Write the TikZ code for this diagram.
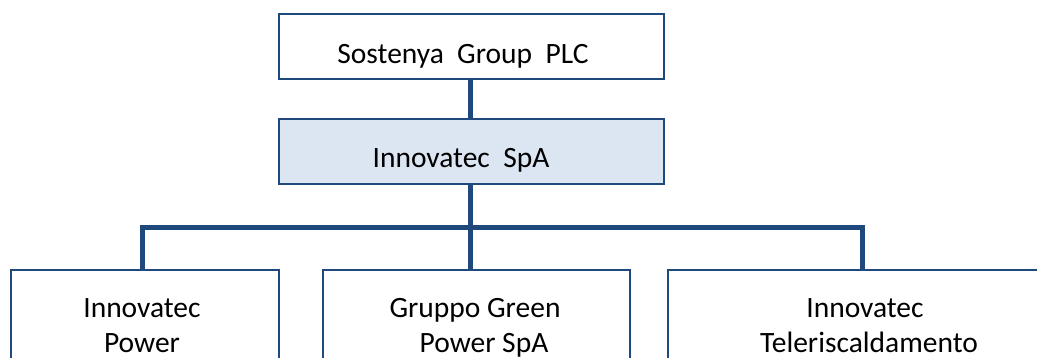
\documentclass[tikz,border=0pt]{standalone}
\usepackage{fontspec}
\setmainfont{Carlito}
\definecolor{bordercol}{RGB}{31,73,125}
\definecolor{fillcol}{RGB}{220,230,242}
\begin{document}
\begin{tikzpicture}[x=1pt,y=-1pt,
  box/.style={draw=bordercol,line width=2pt,rectangle,inner sep=0pt,anchor=north west},
  lbl/.style={font=\fontsize{29.5}{35}\selectfont,anchor=base,inner sep=0pt},
  conn/.style={draw=bordercol,line width=5pt}]
\useasboundingbox (0,0) rectangle (1037,357);
\clip (0,0) rectangle (1037,357);
% boxes
\node[box,minimum width=385pt,minimum height=65pt] (top) at (278,13) {};
\node[box,fill=fillcol,minimum width=385pt,minimum height=65pt] (mid) at (278,118) {};
\node[box,minimum width=268pt,minimum height=140pt] (left) at (10,269) {};
\node[box,minimum width=307pt,minimum height=140pt] (center) at (322,269) {};
\node[box,minimum width=420pt,minimum height=140pt] (right) at (667,269) {};
% labels
\node[lbl] (ttop) at (463,63) {Sostenya\ \ Group\ \ PLC};
\node[lbl] (tmid) at (461,167) {Innovatec\ \ SpA};
\node[lbl] (tl1) at (142,317) {Innovatec};
\node[lbl] (tl2) at (142,352) {Power};
\node[lbl] (tc1) at (475,317) {Gruppo Green};
\node[lbl] (tc2) at (484,352) {Power SpA};
\node[lbl] (tr1) at (865,317) {Innovatec};
\node[lbl] (tr2) at (869,352) {Teleriscaldamento};
% connectors
\coordinate (bar) at (470,227);
\coordinate (barL) at (142,227);
\coordinate (barR) at (862,227);
\draw[conn] (top.south -| bar) -- (mid.north -| bar);
\draw[conn] (mid.south -| bar) -- (bar);
\draw[conn,line cap=rect] (barL) -- (barR);
\draw[conn] (barL) -- (left.north -| barL);
\draw[conn] (bar) -- (center.north -| bar);
\draw[conn] (barR) -- (right.north -| barR);
\end{tikzpicture}
\end{document}
